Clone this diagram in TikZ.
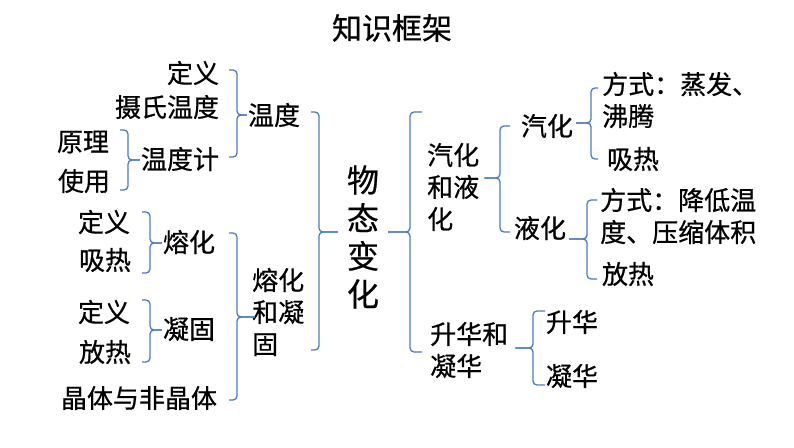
\documentclass[tikz,border=0pt]{standalone}
\usepackage{fontspec}
\usepackage{tikz}
\newfontfamily\cjk[FakeBold=0.6]{Noto Sans CJK SC}
\definecolor{braceblue}{HTML}{4A7CC4}

\tikzset{
  txt/.style={font=\cjk\fontsize{26}{32}\selectfont, inner sep=1pt},
  brk/.style={draw=braceblue, line width=1.3pt, rounded corners=4pt}
}

\begin{document}
\begin{tikzpicture}[x=1pt,y=-1pt]
\useasboundingbox (0,0) rectangle (794,447);

\node (title) [txt, font=\cjk\fontsize{30}{36}\selectfont] at (392,28) {知识框架};

% left part
\node (dingyi1) [txt] at (193,73) {定义};
\node (sheshi) [txt] at (167,107) {摄氏温度};
\node (yuanli) [txt] at (83,142) {原理};
\node (shiyong) [txt] at (84,181) {使用};
\node (wenduji) [txt] at (180,159) {温度计};
\node (wendu) [txt] at (274,115) {温度};

\node (dingyi2) [txt] at (104,222) {定义};
\node (xire1) [txt] at (105,260) {吸热};
\node (ronghua) [txt] at (189,242) {熔化};
\node (dingyi3) [txt] at (104,312) {定义};
\node (fangre1) [txt] at (105,352) {放热};
\node (ninggu) [txt] at (189,329) {凝固};
\node (jingti) [txt] at (139,398) {晶体与非晶体};
\node (rhng) [txt, align=left, anchor=west] at (251,312) {熔化\\和凝\\固};

\node (wtbh) [txt, font=\cjk\fontsize{32}{38}\selectfont, align=center, inner sep=9pt] at (363,237) {物\\态\\变\\化};

% right part
\node (qhyh) [txt, align=left, anchor=west] at (426,187) {汽化\\和液\\化};
\node (qihua) [txt] at (547,126) {汽化};
\node (yehua) [txt] at (540,228) {液化};
\node (fangshi1) [txt, align=left, anchor=west] at (601,100) {方式：蒸发、\\沸腾};
\node (xire2) [txt] at (633,159) {吸热};
\node (fangshi2) [txt, align=left, anchor=west] at (599,216) {方式：降低温\\度、压缩体积};
\node (fangre2) [txt] at (628,274) {放热};
\node (shnh) [txt, align=left, anchor=west] at (429,350) {升华和\\凝华};
\node (shenghua) [txt] at (572,322) {升华};
\node (ninghua) [txt] at (572,376) {凝华};

% braces
\coordinate (m1) at (128,160);
\draw [brk] (120,130) -| (m1) -- (wenduji.west |- m1);
\draw [brk] (120,190) -| (m1) -- (wenduji.west |- m1);

\coordinate (m2) at (237,115);
\draw [brk] (229,70) -| (m2) -- (wendu.west |- m2);
\draw [brk] (229,157) -| (m2) -- (wendu.west |- m2);

\coordinate (m3) at (150,243);
\draw [brk] (142,212) -| (m3) -- (ronghua.west |- m3);
\draw [brk] (142,273) -| (m3) -- (ronghua.west |- m3);

\coordinate (m4) at (150,330);
\draw [brk] (142,300) -| (m4) -- (ninggu.west |- m4);
\draw [brk] (142,362) -| (m4) -- (ninggu.west |- m4);

\coordinate (m5) at (237,317);
\draw [brk] (229,233) -| (m5) -- ([xshift=4pt]rhng.west |- m5);
\draw [brk] (229,400) -| (m5) -- ([xshift=4pt]rhng.west |- m5);

\coordinate (m6) at (319,232);
\draw [brk] (311,112) -| (m6) -- (wtbh.west |- m6);
\draw [brk] (311,350) -| (m6) -- (wtbh.west |- m6);

\coordinate (m7) at (410,232);
\draw [brk] (422,112) -| (m7) -- (wtbh.east |- m7);
\draw [brk] (422,352) -| (m7) -- (wtbh.east |- m7);

\coordinate (m8) at (500,178);
\draw [brk] (510,126) -| (m8) -- ([xshift=4pt]qhyh.east |- m8);
\draw [brk] (510,232) -| (m8) -- ([xshift=4pt]qhyh.east |- m8);

\coordinate (m9) at (591,123);
\draw [brk] (598,88) -| (m9) -- ([xshift=2pt]qihua.east |- m9);
\draw [brk] (598,159) -| (m9) -- ([xshift=2pt]qihua.east |- m9);

\coordinate (m10) at (587,239);
\draw [brk] (597,200) -| (m10) -- ([xshift=2pt]yehua.east |- m10);
\draw [brk] (597,279) -| (m10) -- ([xshift=2pt]yehua.east |- m10);

\coordinate (m11) at (533,348);
\draw [brk] (545,311) -| (m11) -- ([xshift=6pt]shnh.east |- m11);
\draw [brk] (545,385) -| (m11) -- ([xshift=6pt]shnh.east |- m11);
\end{tikzpicture}
\end{document}
